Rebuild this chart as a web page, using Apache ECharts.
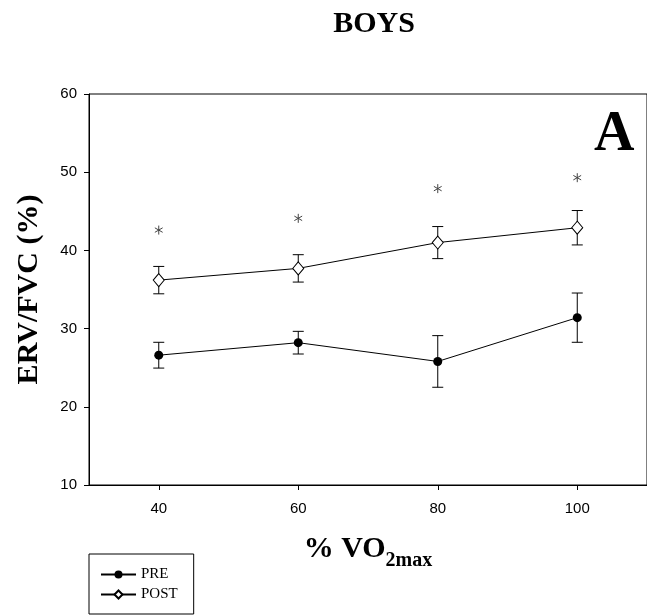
<!DOCTYPE html>
<html><head><meta charset="utf-8">
<script src="https://cdn.jsdelivr.net/npm/echarts@6/dist/echarts.min.js"></script>
<style>html,body{margin:0;padding:0;background:#fff}#c{width:647px;height:615px}</style>
</head><body><div id="c"></div>
<script>
const categories = [40, 60, 80, 100];
const preMean = [26.6, 28.2, 25.8, 31.4];
const preErr = [1.65, 1.45, 3.3, 3.15];
const postMean = [36.2, 37.7, 41.0, 42.9];
const postErr = [1.75, 1.75, 2.05, 2.2];
const starY = [42.6, 44.1, 47.9, 49.3];
const xTicks = [40, 60, 80, 100];

const chart = echarts.init(document.getElementById('c'), null, {renderer: 'canvas'});

function errSeries(name, mean, err) {
  return {
    type: 'custom', name: name, z: 2, silent: true,
    data: categories.map((x, i) => [x, mean[i] - err[i], mean[i] + err[i]]),
    encode: {x: 0, y: [1, 2]},
    renderItem: function (params, api) {
      const lo = api.coord([api.value(0), api.value(1)]);
      const hi = api.coord([api.value(0), api.value(2)]);
      const w = 5.5;
      const st = {stroke: '#000', lineWidth: 1};
      return {type: 'group', children: [
        {type: 'line', shape: {x1: lo[0], y1: lo[1], x2: hi[0], y2: hi[1]}, style: st},
        {type: 'line', shape: {x1: lo[0] - w, y1: lo[1], x2: lo[0] + w, y2: lo[1]}, style: st},
        {type: 'line', shape: {x1: hi[0] - w, y1: hi[1], x2: hi[0] + w, y2: hi[1]}, style: st}
      ]};
    }
  };
}

const starSeries = {
  type: 'custom', name: 'sig', z: 3, silent: true,
  data: categories.map((x, i) => [x, starY[i]]),
  encode: {x: 0, y: 1},
  renderItem: function (params, api) {
    const p = api.coord([api.value(0), api.value(1)]);
    const r = 4.5;
    const st = {stroke: '#444', lineWidth: 1};
    const ch = [];
    [90, 30, 150].forEach(function (a) {
      const rad = a * Math.PI / 180;
      const dx = r * Math.cos(rad), dy = r * Math.sin(rad);
      ch.push({type: 'line', shape: {x1: p[0] - dx, y1: p[1] - dy, x2: p[0] + dx, y2: p[1] + dy}, style: st});
    });
    return {type: 'group', children: ch};
  }
};

const option = {
  backgroundColor: '#fff',
  animation: false,
  title: {
    text: 'BOYS', left: 369, top: 4, textAlign: 'center',
    textStyle: {fontFamily: 'Liberation Serif', fontWeight: 'bold', fontSize: 30, color: '#000'}
  },
  graphic: [{
    type: 'text', left: 594, top: 108,
    style: {text: 'A', fontFamily: 'Liberation Serif', fontWeight: 'bold', fontSize: 56, fill: '#000'}
  }],
  legend: {
    data: ['PRE', 'POST'], orient: 'vertical', left: 89, bottom: 1,
    itemWidth: 35, itemHeight: 10, itemGap: 5,
    padding: [13, 16, 12, 11],
    borderColor: '#000', borderWidth: 1, selectedMode: false,
    textStyle: {fontFamily: 'Liberation Serif', fontSize: 15, color: '#000'}
  },
  grid: {left: 89, top: 94, width: 560, height: 391, show: true, borderColor: '#000', borderWidth: 1, containLabel: false},
  xAxis: {
    type: 'value', min: 30, max: 110,
    name: '{a|% VO}{b|2max}', nameLocation: 'middle', nameGap: 49,
    nameTextStyle: {
      rich: {
        a: {fontFamily: 'Liberation Serif', fontWeight: 'bold', fontSize: 30, color: '#000', padding: [0, 0, 7, 0], verticalAlign: 'bottom'},
        b: {fontFamily: 'Liberation Serif', fontWeight: 'bold', fontSize: 20, color: '#000', verticalAlign: 'bottom'}
      }
    },
    axisLine: {show: true, lineStyle: {color: '#000', width: 1}},
    axisTick: {show: true, length: 5, customValues: xTicks, lineStyle: {color: '#000'}},
    axisLabel: {customValues: xTicks, margin: 16, fontFamily: 'Liberation Sans', fontSize: 15, color: '#000'},
    splitLine: {show: false}
  },
  yAxis: {
    type: 'value', min: 10, max: 60, interval: 10,
    name: 'ERV/FVC (%)', nameLocation: 'middle', nameGap: 45, nameRotate: 90,
    nameTextStyle: {fontFamily: 'Liberation Serif', fontWeight: 'bold', fontSize: 30, color: '#000'},
    axisLine: {show: true, lineStyle: {color: '#000', width: 1}},
    axisTick: {show: true, length: 5, lineStyle: {color: '#000'}},
    axisLabel: {margin: 12, fontFamily: 'Liberation Sans', fontSize: 15, color: '#000'},
    splitLine: {show: false}
  },
  series: [
    errSeries('preErr', preMean, preErr),
    errSeries('postErr', postMean, postErr),
    starSeries,
    {
      name: 'PRE', type: 'line', z: 4,
      data: categories.map((x, i) => [x, preMean[i]]),
      symbol: 'circle', symbolSize: 9, showAllSymbol: true,
      lineStyle: {color: '#000', width: 1},
      itemStyle: {color: '#000', borderColor: '#000', borderWidth: 0}
    },
    {
      name: 'POST', type: 'line', z: 4,
      data: categories.map((x, i) => [x, postMean[i]]),
      symbol: 'diamond', symbolSize: [11, 13], showAllSymbol: true,
      lineStyle: {color: '#000', width: 1},
      itemStyle: {color: '#fff', borderColor: '#000', borderWidth: 1}
    }
  ]
};
chart.setOption(option);
</script>
</body></html>
